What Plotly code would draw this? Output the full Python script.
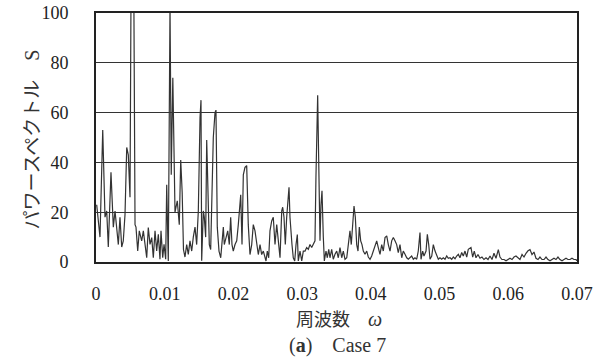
import plotly.graph_objects as go

# frequency (omega) and power spectrum S
omega = [
    0.0001, 0.00058, 0.00098, 0.00131, 0.00156, 0.00179, 0.00218, 0.00252, 0.00277, 0.00301,
    0.00325, 0.00349, 0.00374, 0.00397, 0.00422, 0.00447, 0.0047, 0.00495, 0.00517, 0.00541,
    0.00568, 0.00582, 0.00607, 0.0063, 0.00665, 0.00689, 0.00713, 0.00738, 0.00761, 0.00786,
    0.00811, 0.00834, 0.00859, 0.00883, 0.00907, 0.00931, 0.00946, 0.00971, 0.0099, 0.01014,
    0.01029, 0.01052, 0.01077, 0.01095, 0.01118, 0.0115, 0.01183, 0.01212, 0.01233, 0.01254,
    0.01273, 0.01295, 0.0132, 0.01343, 0.01368, 0.01393, 0.01416, 0.01441, 0.01465, 0.01489,
    0.01514, 0.01528, 0.01538, 0.01562, 0.01576, 0.01596, 0.01611, 0.0163, 0.01649, 0.01669,
    0.01684, 0.01707, 0.01732, 0.01746, 0.01765, 0.0179, 0.01815, 0.01838, 0.01853, 0.01867,
    0.01892, 0.01917, 0.0194, 0.0196, 0.01979, 0.01998, 0.02023, 0.02048, 0.02071, 0.02086,
    0.02106, 0.02125, 0.02144, 0.02168, 0.02193, 0.02216, 0.02241, 0.02266, 0.02289, 0.02314,
    0.02339, 0.02362, 0.02387, 0.02411, 0.02435, 0.02459, 0.02474, 0.02493, 0.02513, 0.02532,
    0.02557, 0.0258, 0.02605, 0.0263, 0.02653, 0.02678, 0.02703, 0.02717, 0.02736, 0.02755,
    0.02775, 0.02799, 0.02809, 0.02823, 0.02838, 0.02852, 0.02871, 0.02892, 0.02911, 0.0293,
    0.02944, 0.02969, 0.02994, 0.03017, 0.03042, 0.03066, 0.0309, 0.03114, 0.03139, 0.03162,
    0.03187, 0.03201, 0.03226, 0.03241, 0.0326, 0.03274, 0.03289, 0.03308, 0.03323, 0.03347,
    0.03366, 0.03387, 0.03405, 0.0343, 0.03453, 0.03478, 0.03503, 0.03526, 0.03551, 0.03576,
    0.03599, 0.03624, 0.03649, 0.03672, 0.03696, 0.03715, 0.03736, 0.03755, 0.03774, 0.03794,
    0.03813, 0.03832, 0.03852, 0.03871, 0.0389, 0.03915, 0.0394, 0.03963, 0.03988, 0.04012,
    0.04036, 0.0406, 0.04085, 0.04108, 0.04133, 0.04158, 0.04181, 0.04206, 0.04231, 0.04254,
    0.04279, 0.04303, 0.04327, 0.04351, 0.04376, 0.04399, 0.04424, 0.04449, 0.04472, 0.04497,
    0.04522, 0.04545, 0.0457, 0.04594, 0.04618, 0.04642, 0.04667, 0.0469, 0.04715, 0.0473,
    0.04754, 0.04773, 0.04803, 0.04822, 0.04842, 0.04861, 0.04886, 0.04909, 0.04934, 0.04958,
    0.04982, 0.05006, 0.05031, 0.05054, 0.05079, 0.05104, 0.05127, 0.05152, 0.05177, 0.052,
    0.05225, 0.05249, 0.05273, 0.05297, 0.05322, 0.05345, 0.0537, 0.05395, 0.05418, 0.05457,
    0.05482, 0.05505, 0.0553, 0.05559, 0.05588, 0.05617, 0.05646, 0.05676, 0.05705, 0.05734,
    0.05763, 0.05792, 0.05821, 0.05855, 0.05879, 0.05908, 0.05938, 0.05967, 0.05996, 0.06025,
    0.06054, 0.06083, 0.06112, 0.06141, 0.0617, 0.062, 0.06229, 0.06258, 0.06287, 0.06316,
    0.06345, 0.06374, 0.06403, 0.06432, 0.06461, 0.06491, 0.0652, 0.06549, 0.06578, 0.06607,
    0.06636, 0.06665, 0.06694, 0.06723, 0.06752, 0.06782, 0.06811, 0.0684, 0.06869, 0.06898,
    0.06927, 0.06956, 0.06985, 0.07,
]
S = [
    23, 10, 53, 18, 20.5, 6, 36, 14, 20.5, 14,
    7, 18, 6, 8.5, 19, 46, 43, 26, 150, 160,
    15, 14, 4.4, 12.5, 8.5, 12.5, 7.1, 1.7, 13.8, 7.1,
    9.8, 1.7, 12.5, 4.4, 11.1, 1.1, 12.5, 1.7, 7.1, 1.1,
    31, 0.4, 103, 35, 74, 20, 24.6, 15, 41, 28,
    5, 2, 7, 3, 8.5, 4.4, 10, 14, 7, 20.5,
    58, 65, 0.5, 20.5, 18, 10, 49, 20.5, 7, 5,
    27, 50, 60, 61, 14, 4.4, 1.7, 10, 14, 7,
    10, 12.5, 7, 18, 7, 4.4, 7, 8.5, 15, 20.5,
    27, 7, 35, 38, 38.7, 15, 3, 7, 15, 12.5,
    7, 3, 7, 3, 4.4, 1.7, 0.4, 4.4, 1.7, 12.5,
    16.5, 18, 7, 15, 7, 1.7, 20.5, 22, 18, 7,
    18, 28.6, 30, 18, 10, 7, 1.7, 0.4, 7, 11,
    0.4, 4.4, 0.4, 4.4, 4.4, 5.8, 5.1, 7, 5.8, 7,
    8.5, 34, 67, 41, 8.5, 23, 28.6, 10, 0.4, 4.4,
    1.7, 5.1, 1.7, 5.1, 1.1, 3.1, 4.4, 1.7, 5.8, 1.7,
    4.4, 1.1, 1.7, 7, 12.5, 7, 14, 22.5, 18, 7,
    4.4, 14, 8.5, 7, 4.4, 3.1, 4.4, 2, 1.1, 2.4,
    4.4, 7, 8.5, 5.8, 3.1, 7, 4.4, 9.8, 10.5, 7,
    4.4, 8.5, 9.8, 8.5, 7, 3.8, 7, 1.7, 4.4, 3.1,
    1.7, 1.1, 1.7, 2.4, 1.1, 1.7, 1.1, 4.4, 11.8, 1.1,
    4.4, 2.4, 4.4, 11.1, 7, 1.1, 2.4, 7, 4.4, 2.4,
    1.1, 1.7, 1.1, 1.7, 1.1, 2.4, 1.5, 1.7, 1.1, 2,
    1.3, 2.4, 3.1, 1.7, 3.8, 2.4, 4.4, 2, 5.1, 5.8,
    2, 4.4, 1.7, 3, 1.5, 2, 1, 1.7, 1, 2.4,
    1, 3.5, 1.5, 5, 2, 1, 1, 0.5, 1, 1.5,
    1, 2, 2.4, 1.5, 1, 3, 2, 3.5, 4.5, 5,
    3, 4, 1.5, 1, 2, 1, 1, 2, 1, 0.5,
    1, 1.5, 1, 2, 1, 0.5, 1, 1.5, 1, 1,
    1.5, 1, 1, 0.5,
]

x_ticks = [0, 0.01, 0.02, 0.03, 0.04, 0.05, 0.06, 0.07]
x_tick_labels = ["0", "0.01", "0.02", "0.03", "0.04", "0.05", "0.06", "0.07"]
y_ticks = [0, 20, 40, 60, 80, 100]

serif = "Liberation Serif, Times New Roman, serif"
cjk = "Noto Sans CJK JP, sans-serif"

fig = go.Figure()
fig.add_trace(go.Scatter(
    x=omega, y=S, mode="lines",
    line=dict(color="#333333", width=1.2),
    showlegend=False, hoverinfo="skip",
))

fig.update_layout(
    width=596, height=359,
    margin=dict(l=96, r=19, t=13, b=97),
    paper_bgcolor="white", plot_bgcolor="white",
    xaxis=dict(
        range=[0, 0.07], tickvals=x_ticks, ticktext=x_tick_labels,
        showgrid=False, zeroline=False, automargin=False,
        showline=True, mirror=True, linecolor="#222222", linewidth=2,
        ticks="", ticklabelstandoff=14,
        tickfont=dict(family=serif, size=18, color="#222222"),
    ),
    yaxis=dict(
        range=[0, 100], tickvals=y_ticks,
        showgrid=True, gridcolor="#333333", gridwidth=1, zeroline=False, automargin=False,
        showline=True, mirror=True, linecolor="#222222", linewidth=2,
        ticks="", ticklabelstandoff=22,
        tickfont=dict(family=serif, size=18, color="#222222"),
    ),
    annotations=[
        dict(text="パワースペクトル　<span style='font-family:Liberation Serif;font-size:20px'>S</span>",
             xref="paper", yref="paper", x=-0.136, y=0.49, textangle=-90,
             showarrow=False, xanchor="center", yanchor="middle",
             font=dict(family=cjk, size=19, color="#333333")),
        dict(text="周波数　<i style='font-family:Liberation Serif;font-size:20px'>ω</i>",
             xref="paper", yref="paper", x=0.505, y=-0.225,
             showarrow=False, xanchor="center", yanchor="middle",
             font=dict(family=cjk, size=18, color="#333333")),
        dict(text="(<b>a</b>)　Case 7",
             xref="paper", yref="paper", x=0.502, y=-0.336,
             showarrow=False, xanchor="center", yanchor="middle",
             font=dict(family=serif, size=20, color="#333333")),
    ],
)

fig.write_html("out.html", config={"displayModeBar": False},
               post_script="document.body.style.margin='0';")
